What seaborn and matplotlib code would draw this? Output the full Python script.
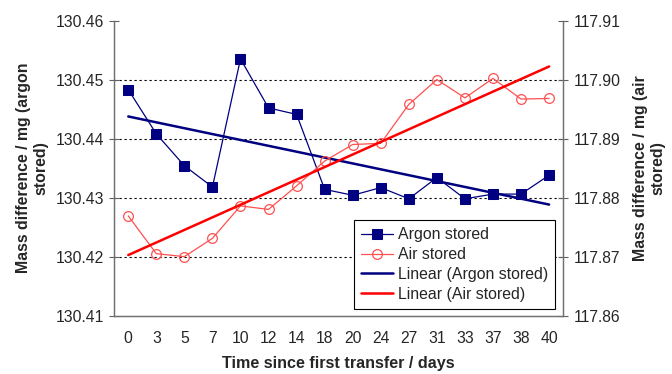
import numpy as np
import pandas as pd
import matplotlib
matplotlib.use("Agg")
import matplotlib.pyplot as plt
import seaborn as sns

days = ["0", "3", "5", "7", "10", "12", "14", "18", "20", "24", "27", "31", "33", "37", "38", "40"]
argon = [130.4483, 130.4408, 130.4354, 130.4318, 130.4535, 130.4452, 130.4441, 130.4314,
         130.4304, 130.4317, 130.4298, 130.4334, 130.4298, 130.4306, 130.4306, 130.4338]
air = [117.8769, 117.8705, 117.8700, 117.8731, 117.8786, 117.8780, 117.8820, 117.8862,
       117.8890, 117.8892, 117.8958, 117.9000, 117.8969, 117.9002, 117.8967, 117.8968]
left_ticks = [130.41, 130.42, 130.43, 130.44, 130.45, 130.46]
right_ticks = [117.86, 117.87, 117.88, 117.89, 117.90, 117.91]

sns.set_theme(style="white")
plt.rcParams['font.family'] = ['Liberation Sans', 'DejaVu Sans']

idx = np.arange(len(days))
df = pd.DataFrame({"idx": idx, "day": days, "argon": argon, "air": air})
pa = np.polyfit(idx, argon, 1)
pr = np.polyfit(idx, air, 1)
df["argon_fit"] = np.polyval(pa, idx)
df["air_fit"] = np.polyval(pr, idx)

fig = plt.figure(figsize=(6.72, 3.74), dpi=100)
ax = fig.add_axes([0.170, 0.156, 0.668, 0.789])
ax2 = ax.twinx()

navy = "#000080"
red_line = "#ff5050"
red = "#ff0000"
FS = 11.3

sns.lineplot(data=df, x="idx", y="argon", ax=ax, color=navy, lw=0.9, marker="s",
             markersize=7, markerfacecolor=navy, markeredgecolor=navy, label="Argon stored", legend=False)
sns.lineplot(data=df, x="idx", y="argon_fit", ax=ax, color=navy, lw=1.8,
             label="Linear (Argon stored)", legend=False)
sns.lineplot(data=df, x="idx", y="air", ax=ax2, color=red_line, lw=0.9, marker="o",
             markersize=7, markerfacecolor="none", markeredgecolor=red_line, markeredgewidth=0.9,
             label="Air stored", legend=False)
sns.lineplot(data=df, x="idx", y="air_fit", ax=ax2, color=red, lw=1.8,
             label="Linear (Air stored)", legend=False)

ax.set_xlim(-0.5, len(days) - 0.5)
ax.set_ylim(130.41, 130.46)
ax2.set_ylim(117.86, 117.91)
ax.set_xticks(np.arange(-0.5, len(days), 1.0))
ax.set_xticklabels([])
ax.set_xticks(idx, minor=True)
ax.set_xticklabels(days, minor=True)
ax.tick_params(axis="x", which="major", direction="inout", length=8, width=0.8, color="#606060")
ax.tick_params(axis="x", which="minor", length=0, labelsize=FS, pad=11)
ax.set_yticks(left_ticks)
ax.set_yticklabels([f"{v:.2f}" for v in left_ticks])
ax2.set_yticks(right_ticks)
ax2.set_yticklabels([f"{v:.2f}" for v in right_ticks])
ax.tick_params(axis="y", direction="inout", length=7, width=0.8, color="#606060", labelsize=FS,
               left=True, pad=4)
ax2.tick_params(axis="y", direction="inout", length=7, width=0.8, color="#606060", labelsize=FS,
                right=True, pad=4)

for g in [130.42, 130.43, 130.44, 130.45]:
    ax.axhline(g, color="black", lw=0.8, ls=(0, (2, 2.5)), zorder=0)

for a in (ax, ax2):
    a.spines["top"].set_visible(False)
    for s in ("left", "right", "bottom"):
        a.spines[s].set_color("#707070")
        a.spines[s].set_linewidth(0.9)

ax.set_xlabel("Time since first transfer / days", fontsize=11.6, fontweight="bold", labelpad=7)
ax.set_ylabel("Mass difference / mg (argon\nstored)", fontsize=11.4, fontweight="bold", labelpad=5)
ax2.set_ylabel("Mass difference / mg (air\nstored)", fontsize=11.4, fontweight="bold", labelpad=9)

h1, l1 = ax.get_legend_handles_labels()
h2, l2 = ax2.get_legend_handles_labels()
handles = [h1[0], h2[0], h1[1], h2[1]]
labels = [l1[0], l2[0], l1[1], l2[1]]
leg = ax2.legend(handles, labels, loc="lower right", bbox_to_anchor=(0.982, 0.023),
                 fontsize=11.4, frameon=True, fancybox=False, framealpha=1,
                 edgecolor="black", borderpad=0.45, labelspacing=0.3, handlelength=2.0,
                 handletextpad=0.3, borderaxespad=0)
leg.get_frame().set_linewidth(0.8)

fig.savefig("out.png", dpi=100)
